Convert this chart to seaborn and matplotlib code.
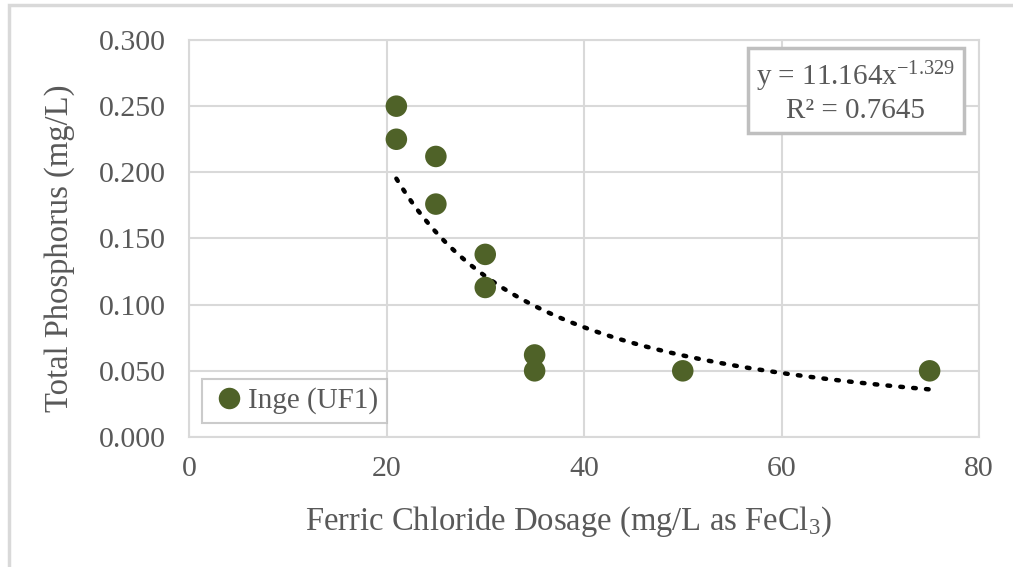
import numpy as np
import pandas as pd
import matplotlib
matplotlib.use("Agg")
import matplotlib.pyplot as plt
import seaborn as sns
from matplotlib.patches import Rectangle

# ---- data ----
dosage = [21, 21, 25, 25, 30, 30, 35, 35, 50, 75]
phosphorus = [0.250, 0.225, 0.212, 0.176, 0.138, 0.113, 0.062, 0.050, 0.050, 0.050]
series_name = "Inge (UF1)"
fit_a = 11.164
fit_b = -1.329
fit_r2 = 0.7645
x_ticks = [0, 20, 40, 60, 80]
y_ticks = [0.0, 0.05, 0.10, 0.15, 0.20, 0.25, 0.30]

df = pd.DataFrame({"dosage": dosage, "tp": phosphorus, "series": series_name})
trend_x = np.linspace(min(dosage), max(dosage), 200)
trend_df = pd.DataFrame({"x": trend_x, "y": fit_a * trend_x ** fit_b})

sns.set_theme(style="white")
plt.rcParams["font.family"] = ["Liberation Serif", "DejaVu Serif"]
plt.rcParams["mathtext.fontset"] = "custom"
plt.rcParams["mathtext.rm"] = "Liberation Serif"
plt.rcParams["mathtext.it"] = "Liberation Serif:italic"

text_color = "#595959"
grid_color = "#d9d9d9"
marker_color = "#4f6228"

fig = plt.figure(figsize=(10.13, 5.67), dpi=100)
ax = fig.add_axes([189 / 1013, 1 - 437 / 567, (979 - 189) / 1013, (437 - 40) / 567])

# outer chart border
fig.patches.append(Rectangle((9 / 1013, -0.05), 1.1, 1 - 5 / 567 + 0.05,
                             transform=fig.transFigure, fill=False,
                             edgecolor=grid_color, linewidth=2.5, zorder=0))

sns.lineplot(data=trend_df, x="x", y="y", ax=ax, color="black", linewidth=3.2,
             linestyle=(0, (0.6, 2.3)), dash_capstyle="round", zorder=3, legend=False)
sns.scatterplot(data=df, x="dosage", y="tp", hue="series", palette=[marker_color],
                s=240, edgecolor="none", ax=ax, zorder=4)

ax.set_xlim(0, 80)
ax.set_ylim(0, 0.3)
ax.set_xticks(x_ticks)
ax.set_yticks(y_ticks)
ax.set_yticklabels([f"{v:.3f}" for v in y_ticks])
ax.grid(True, color=grid_color, linewidth=1.5)
ax.set_axisbelow(True)
for sp in ax.spines.values():
    sp.set_color(grid_color)
    sp.set_linewidth(1.5)
ax.tick_params(axis="both", length=0, labelsize=21.5, labelcolor=text_color)
ax.tick_params(axis="x", pad=14)
ax.tick_params(axis="y", pad=17)

ax.set_xlabel(r"Ferric Chloride Dosage (mg/L as FeCl$\mathregular{_3}$)",
              fontsize=23.5, color=text_color, labelpad=16)
ax.xaxis.set_label_coords(0.48, -0.17)
ax.set_ylabel("Total Phosphorus (mg/L)", fontsize=23.5, color=text_color, labelpad=17)
ax.yaxis.label.set_y(0.476)

# equation box
ax.text(0.844, 0.869,
        r"y = 11.164x$\mathregular{^{-1.329}}$" + "\n" + f"R² = {fit_r2}",
        transform=ax.transAxes, ha="center", va="center", fontsize=21,
        color=text_color, linespacing=1.2,
        bbox=dict(boxstyle="square,pad=0.3", facecolor="white",
                  edgecolor="#bfbfbf", linewidth=2.5), zorder=5)

leg = ax.legend(loc="lower left", bbox_to_anchor=(0.016, 0.035), borderaxespad=0,
                fontsize=21, frameon=True, fancybox=False, handletextpad=0.0,
                borderpad=0.3, handlelength=1.3, markerscale=1.0)
leg.get_frame().set_edgecolor("#bfbfbf")
leg.get_frame().set_linewidth(1.5)
for t in leg.get_texts():
    t.set_color(text_color)

fig.savefig("out.png", dpi=100)
